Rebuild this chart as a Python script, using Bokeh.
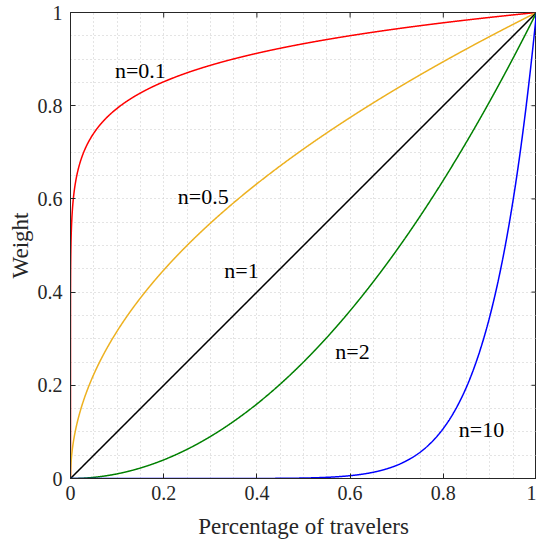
import numpy as np
from bokeh.plotting import figure
from bokeh.models import FixedTicker, LinearAxis, Range1d, Label
from bokeh.embed import file_html
from bokeh.resources import INLINE

# data: power curves y = x^n
exponents = [0.1, 0.5, 1, 2, 10]
colors = ["#ff0000", "#edb120", "#000000", "#008000", "#0000ff"]
curve_labels = ["n=0.1", "n=0.5", "n=1", "n=2", "n=10"]
label_x = [0.15, 0.285, 0.367, 0.605, 0.882]
label_y = [0.875, 0.605, 0.446, 0.273, 0.105]
tick_vals = [0, 0.2, 0.4, 0.6, 0.8, 1]
tick_text = ["0", "0.2", "0.4", "0.6", "0.8", "1"]
grid_vals = [i * 0.05 for i in range(21)]

FONT = "Liberation Serif"
AXC = "#262626"

p = figure(frame_width=466, frame_height=466, output_backend="svg", toolbar_location=None,
           x_range=Range1d(0, 1), y_range=Range1d(0, 1),
           x_axis_location=None, y_axis_location=None,
           min_border_left=70, min_border_top=12, min_border_right=0, min_border_bottom=58)
p.background_fill_color = "white"
p.outline_line_color = AXC
p.outline_line_width = 1

def make_axis(label, label_standoff, tick_standoff):
    ax = LinearAxis(ticker=FixedTicker(ticks=tick_vals))
    ax.major_tick_in = 5
    ax.major_tick_out = 0
    ax.minor_tick_in = 0
    ax.minor_tick_out = 0
    ax.axis_line_color = AXC
    ax.major_tick_line_color = AXC
    ax.major_label_overrides = {v: t for v, t in zip(tick_vals, tick_text)}
    ax.major_label_text_font = FONT
    ax.major_label_text_font_size = "20px"
    ax.major_label_text_color = AXC
    ax.major_label_standoff = tick_standoff
    ax.axis_label = label
    ax.axis_label_text_font = FONT
    ax.axis_label_text_font_size = "23px"
    ax.axis_label_text_font_style = "normal"
    ax.axis_label_text_color = AXC
    ax.axis_label_standoff = label_standoff
    return ax

p.add_layout(make_axis("Percentage of travelers", 11, 7), "below")
p.add_layout(make_axis("Weight", 2, 8), "left")

for g in (p.xgrid, p.ygrid):
    g.ticker = FixedTicker(ticks=grid_vals)
    g.grid_line_color = "#c8c8c8"
    g.grid_line_dash = "1 3"
    g.grid_line_width = 1

x = np.unique(np.concatenate([np.logspace(-9, 0, 600), np.linspace(0, 1, 1500)]))
for n, c in zip(exponents, colors):
    p.line(x, x ** n, line_color=c, line_width=1.5)

# inward ticks on the top and right edges of the box (half of each dash is clipped by the frame)
p.scatter(x=tick_vals, y=[1] * len(tick_vals), marker="dash", angle=np.pi / 2, size=10,
          line_color=AXC, line_width=1)
p.scatter(x=[1] * len(tick_vals), y=tick_vals, marker="dash", size=10,
          line_color=AXC, line_width=1)

for t, lx, ly in zip(curve_labels, label_x, label_y):
    p.add_layout(Label(x=lx, y=ly, text=t, text_font=FONT, text_font_size="22px",
                       text_align="center", text_baseline="middle", text_color="#000000"))

open("out.html", "w").write(file_html(p, INLINE))
